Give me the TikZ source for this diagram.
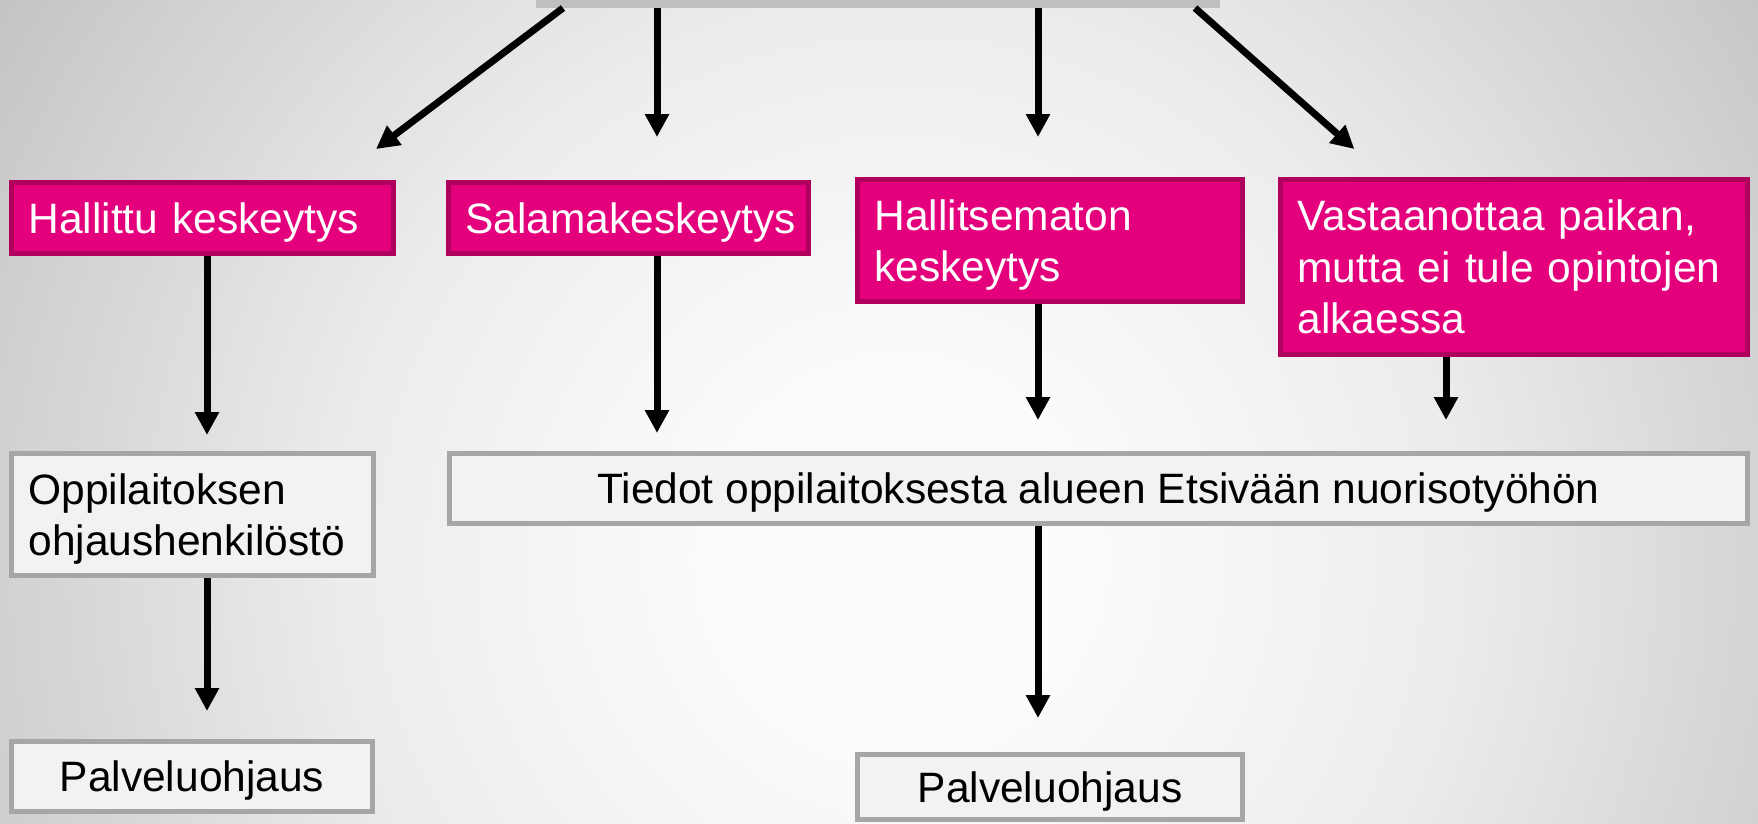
\documentclass[tikz,border=0pt]{standalone}
\usepackage{fontspec}
\setmainfont{Liberation Sans}
\usetikzlibrary{arrows.meta}
\definecolor{pinkfill}{HTML}{E4007C}
\definecolor{pinkline}{HTML}{B0005E}
\definecolor{boxfill}{HTML}{F2F2F2}
\definecolor{boxline}{HTML}{A6A6A6}
\definecolor{barfill}{HTML}{BFBFBF}
\definecolor{bgA}{HTML}{FCFCFC}
\definecolor{bgB}{HTML}{ECECEC}
\definecolor{bgC}{HTML}{D0D0D0}
\definecolor{bgD}{HTML}{C4C4C4}
\pgfdeclareradialshading{bgshade}{\pgfpoint{0bp}{0bp}}{color(0bp)=(bgA); color(4bp)=(bgA); color(13.2bp)=(bgB); color(21.5bp)=(bgC); color(25bp)=(bgD); color(50bp)=(bgD)}
\newcommand{\lastline}[1]{\raisebox{0pt}[\height][0pt]{#1}}
\begin{document}
\begin{tikzpicture}[x=1pt,y=-1pt,
  txt/.style={font=\fontsize{42.5}{51.5}\selectfont},
  pinkbox/.style={rectangle, draw=pinkline, fill=pinkfill, line width=5pt, text=white, txt, inner xsep=17pt, inner ysep=0pt, align=left},
  graybox/.style={rectangle, draw=boxline, fill=boxfill, line width=5pt, text=black, txt, inner xsep=17pt, inner ysep=0pt},
  arr/.style={line width=7pt, -{Triangle[width=23pt,length=23pt]}}]
\useasboundingbox (0,0) rectangle (1758,823);
\begin{scope}
\clip (0,0) rectangle (1758,823);
\shade[shading=bgshade] (-160,-500) rectangle (1960,1620);
\end{scope}
% top bar
\node[fill=barfill, draw=none, inner sep=0pt, outer sep=0pt, minimum width=684pt, minimum height=28pt] (top) at (878,-6) {};
% pink boxes
\node[pinkbox, minimum width=382pt, minimum height=71pt, text width=348pt] (b1) at (202.5,218) {\lastline{Hallittu keskeytys}};
\node[pinkbox, minimum width=360pt, minimum height=71pt, text width=326pt] (b2) at (628.5,218) {\lastline{Salamakeskeytys}};
\node[pinkbox, minimum width=385pt, minimum height=122pt, text width=351pt] (b3) at (1050,240.5) {\mbox{Hallitsematon}\\\lastline{keskeytys}};
\node[pinkbox, minimum width=467pt, minimum height=175pt, text width=433pt] (b4) at (1514,267) {\mbox{Vastaanottaa paikan,}\\\mbox{mutta ei tule opintojen}\\\lastline{alkaessa}};
% gray boxes
\node[graybox, align=left, minimum width=362pt, minimum height=122pt, text width=328pt] (g1) at (192.5,514.5) {\mbox{Oppilaitoksen}\\\lastline{ohjaushenkilöstö}};
\node[graybox, align=center, minimum width=1298pt, minimum height=70pt] (g2) at (1098.5,488.5) {\lastline{Tiedot oppilaitoksesta alueen Etsivään nuorisotyöhön}};
\node[graybox, align=center, minimum width=361pt, minimum height=70pt] (g3) at (192,776.5) {\lastline{Palveluohjaus}};
\node[graybox, align=center, minimum width=385pt, minimum height=65pt] (g4) at (1050,787) {\lastline{Palveluohjaus}};
% arrows from top
\draw[arr, shorten >=51.4pt] ([xshift=27pt]top.south west) -- ([xshift=326pt]b1.north west);
\draw[arr, shorten >=43pt] ([xshift=121pt]top.south west) -- ([xshift=211pt]b2.north west);
\draw[arr, shorten >=40pt] ([xshift=502pt]top.south west) -- ([xshift=183pt]b3.north west);
\draw[arr, shorten >=42.2pt] ([xshift=659pt]top.south west) -- ([xshift=108pt]b4.north west);
% arrows down
\draw[arr, shorten >=16pt] ([xshift=198pt]b1.south west) -- ([xshift=198pt]g1.north west);
\draw[arr, shorten >=18pt] ([xshift=211pt]b2.south west) -- ([xshift=210pt]g2.north west);
\draw[arr, shorten >=31pt] ([xshift=183pt]b3.south west) -- ([xshift=591pt]g2.north west);
\draw[arr, shorten >=31pt] ([xshift=168pt]b4.south west) -- ([xshift=999pt]g2.north west);
\draw[arr, shorten >=28pt] ([xshift=198pt]g1.south west) -- ([xshift=198pt]g3.north west);
\draw[arr, shorten >=34pt] ([xshift=591pt]g2.south west) -- ([xshift=183pt]g4.north west);
\end{tikzpicture}
\end{document}
